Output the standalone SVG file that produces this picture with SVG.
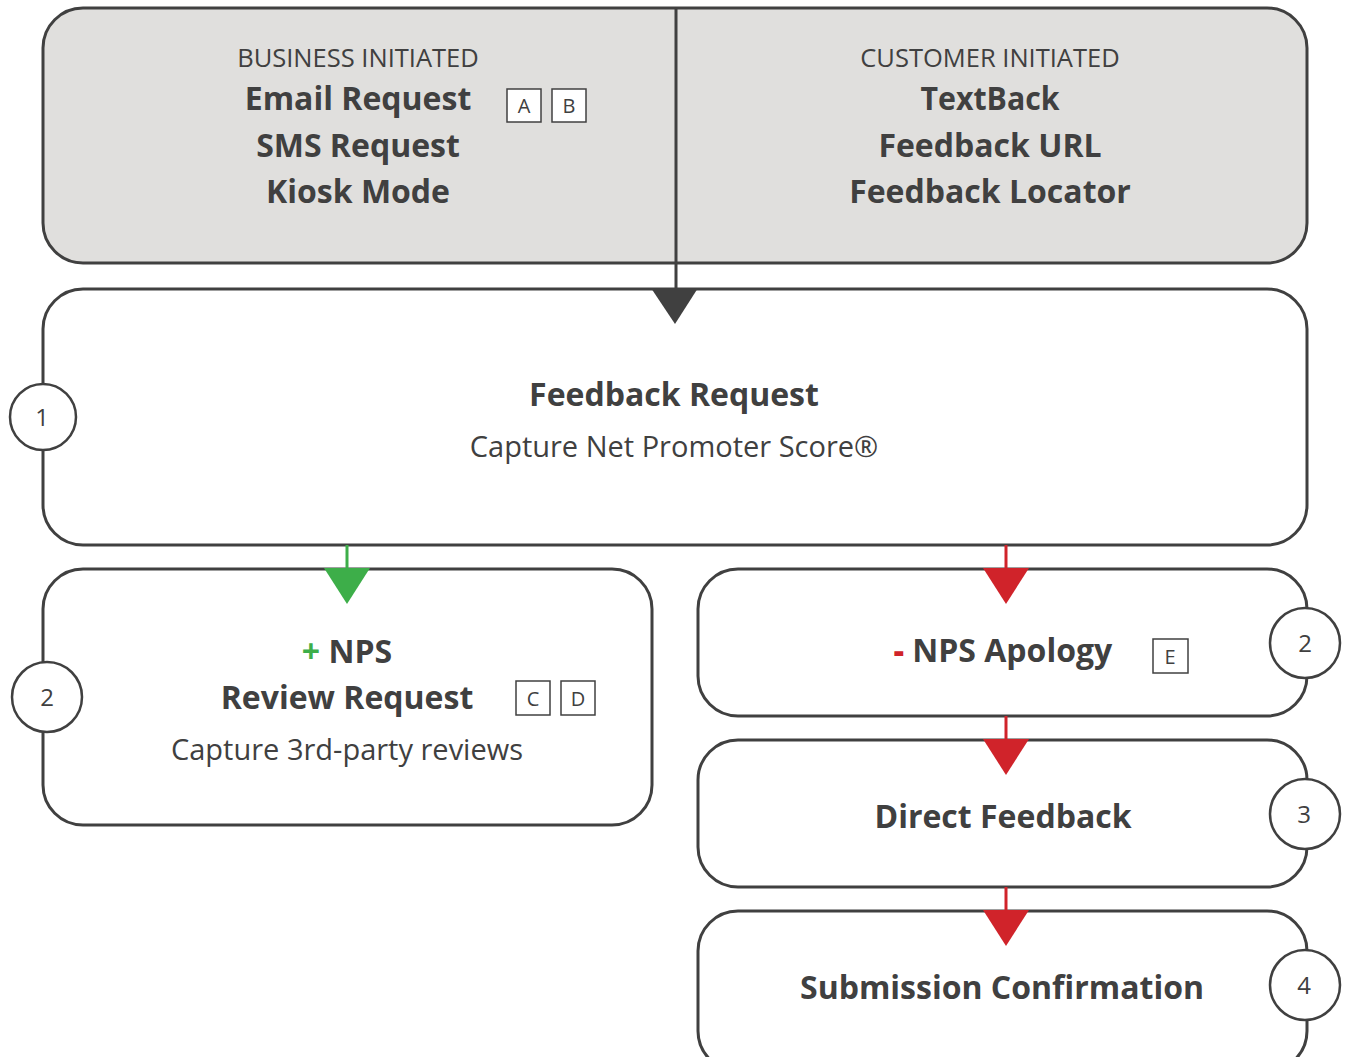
<svg xmlns="http://www.w3.org/2000/svg" width="1347" height="1057" viewBox="0 0 1347 1057">
<style>
.box{fill:#ffffff;stroke:#404040;stroke-width:3}
.grey{fill:#e0dfdd}
.t{font-family:"Open Sans","Noto Sans","Liberation Sans",sans-serif;fill:#404040;text-anchor:middle}
.b{font-weight:700;font-size:32px}
.n{font-size:29px}
.s{font-size:25.5px}
.badge{fill:#ffffff;stroke:#404040;stroke-width:1.5}
.bt{font-family:"Open Sans","Noto Sans","Liberation Sans",sans-serif;fill:#404040;font-size:20px;text-anchor:middle}
.num{fill:#ffffff;stroke:#404040;stroke-width:2.5}
.nt{font-family:"Open Sans","Noto Sans","Liberation Sans",sans-serif;fill:#404040;font-size:24px;text-anchor:middle}
.ln{stroke-width:3;fill:none}
</style>
<g id="sources">
<rect class="box grey" x="43" y="8" width="1264" height="255" rx="40"/>
<text class="t s" x="358" y="67">BUSINESS INITIATED</text>
<text class="t b" x="358" y="110">Email Request</text>
<text class="t b" x="358" y="157">SMS Request</text>
<text class="t b" x="358" y="203">Kiosk Mode</text>
<rect class="badge" x="507" y="89" width="34" height="33"/>
<text class="bt" x="524" y="113">A</text>
<rect class="badge" x="552" y="89" width="34" height="33"/>
<text class="bt" x="569" y="113">B</text>
<text class="t s" x="990" y="67">CUSTOMER INITIATED</text>
<text class="t b" x="990" y="110" textLength="139" lengthAdjust="spacingAndGlyphs">TextBack</text>
<text class="t b" x="990" y="157">Feedback URL</text>
<text class="t b" x="990" y="203">Feedback Locator</text>
</g>
<g id="feedback-request">
<rect class="box" x="43" y="289" width="1264" height="256" rx="40"/>
<text class="t b" x="674" y="406">Feedback Request</text>
<text class="t n" x="674" y="457">Capture Net Promoter Score®</text>
<circle class="num" cx="43" cy="417" r="33"/>
<text class="nt" x="42" y="426">1</text>
</g>
<g id="review-request">
<rect class="box" x="43" y="569" width="609" height="256" rx="40"/>
<text class="t b" x="347" y="663"><tspan fill="#3dae49">+</tspan> NPS</text>
<text class="t b" x="347" y="709">Review Request</text>
<text class="t n" x="347" y="760">Capture 3rd-party reviews</text>
<rect class="badge" x="516" y="681" width="34" height="34"/>
<text class="bt" x="533" y="706">C</text>
<rect class="badge" x="561" y="681" width="34" height="34"/>
<text class="bt" x="578" y="706">D</text>
<circle class="num" cx="47" cy="697" r="35"/>
<text class="nt" x="47" y="706">2</text>
</g>
<g id="nps-apology">
<rect class="box" x="698" y="569" width="609" height="147" rx="40"/>
<text class="t b" x="1003" y="662"><tspan fill="#d0232a" font-weight="800">-</tspan> NPS Apology</text>
<rect class="badge" x="1153" y="639" width="35" height="34"/>
<text class="bt" x="1170" y="664">E</text>
<circle class="num" cx="1305" cy="643" r="35"/>
<text class="nt" x="1305" y="652">2</text>
</g>
<g id="direct-feedback">
<rect class="box" x="698" y="740" width="609" height="147" rx="40"/>
<text class="t b" x="1003" y="828">Direct Feedback</text>
<circle class="num" cx="1305" cy="814" r="35"/>
<text class="nt" x="1304" y="823">3</text>
</g>
<g id="submission-confirmation">
<rect class="box" x="698" y="911" width="609" height="160" rx="40"/>
<text class="t b" x="1002" y="999">Submission Confirmation</text>
<circle class="num" cx="1305" cy="985" r="35"/>
<text class="nt" x="1304" y="994">4</text>
</g>
<g id="connectors">
<line class="ln" x1="676" y1="8" x2="676" y2="292" stroke="#404040"/>
<polygon points="651,288 698,288 675,324" fill="#404040"/>
<line class="ln" x1="347" y1="545" x2="347" y2="572" stroke="#3dae49"/>
<polygon points="324,568 370,568 347,604" fill="#3dae49"/>
<line class="ln" x1="1006" y1="545" x2="1006" y2="572" stroke="#d0232a"/>
<polygon points="983,568 1029,568 1006,604" fill="#d0232a"/>
<line class="ln" x1="1006" y1="716" x2="1006" y2="743" stroke="#d0232a"/>
<polygon points="983,739 1029,739 1006,775" fill="#d0232a"/>
<line class="ln" x1="1006" y1="887" x2="1006" y2="914" stroke="#d0232a"/>
<polygon points="983,910 1029,910 1006,946" fill="#d0232a"/>
</g>
</svg>
